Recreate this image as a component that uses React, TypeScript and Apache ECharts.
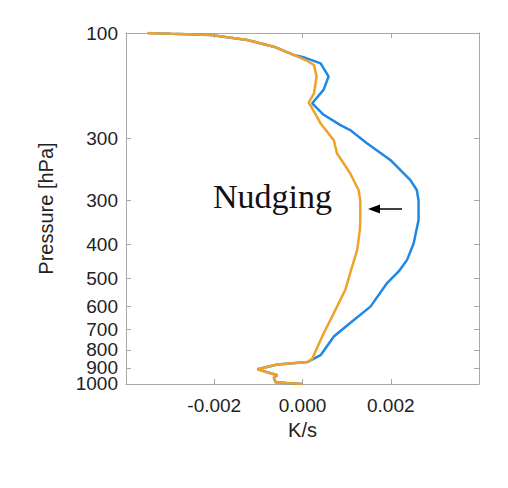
import React, { useEffect, useRef } from "react";
import * as echarts from "echarts";

// Pressure tick positions (hPa) and the labels printed beside them
const pressureTicks = [100, 200, 300, 400, 500, 600, 700, 800, 900, 1000];
const pressureTickLabels = ["100", "300", "300", "400", "500", "600", "700", "800", "900", "1000"];

// Orange profile: [K/s, hPa]
const orangeProfile: [number, number][] = [
  [-0.00351, 100], [-0.00298, 100.5], [-0.00208, 101.3], [-0.00125, 104.7],
  [-0.00065, 109.4], [-0.0002, 115.5], [0.00007, 119.4], [0.00026, 123.4],
  [0.00032, 133], [0.00026, 148.5], [0.00014, 158], [0.00022, 164],
  [0.00041, 181], [0.00071, 202], [0.00078, 220], [0.00108, 251],
  [0.00127, 280], [0.00131, 300], [0.00131, 341], [0.0013, 364],
  [0.00124, 415], [0.00108, 483], [0.00097, 539], [0.00071, 628],
  [0.00048, 717], [0.00022, 848], [0.00011, 866], [-0.00057, 880],
  [-0.00102, 908], [-0.00057, 944], [-0.00065, 959], [-0.00061, 989],
  [-0.00035, 994], [0.0, 1000],
];

// Blue profile: [K/s, hPa]
const blueProfile: [number, number][] = [
  [-0.00351, 100], [-0.00298, 100.5], [-0.00208, 101.3], [-0.00125, 104.7],
  [-0.00065, 109.4], [-0.0002, 115.5], [0.00005, 117.5], [0.00041, 122],
  [0.00059, 133], [0.00048, 145], [0.00022, 158.6], [0.00048, 171],
  [0.00086, 183], [0.00108, 189], [0.00146, 206], [0.00199, 230],
  [0.00244, 262], [0.00259, 280], [0.00263, 300], [0.00263, 341],
  [0.00252, 397], [0.00237, 443], [0.00218, 478], [0.00191, 517],
  [0.00154, 602], [0.00108, 670], [0.00071, 732], [0.00041, 828],
  [0.00014, 862], [0.00011, 866], [-0.00057, 880], [-0.00102, 908],
  [-0.00057, 944], [-0.00065, 959], [-0.00061, 989], [-0.00035, 994], [0.0, 1000],
];

const xMin = -0.004;
const xMax = 0.004;
const xStep = 0.002;

export default function App() {
  const ref = useRef<HTMLDivElement>(null);

  useEffect(() => {
    if (!ref.current) return;
    const chart = echarts.init(ref.current, null, { renderer: "svg" });
    const grey = "#a8a8a8";
    const labelFont = { fontFamily: "Liberation Sans", fontSize: 19, color: "#222" };
    const yLabel = (v: number) => {
      let best = 0;
      let bd = Infinity;
      pressureTicks.forEach((t, i) => {
        const d = Math.abs(t - v);
        if (d < bd) { bd = d; best = i; }
      });
      return pressureTickLabels[best];
    };
    // alternate ticks go on two overlaid left axes so that no label is auto-hidden
    const evenTicks = pressureTicks.filter((_, i) => i % 2 === 0);
    const oddTicks = pressureTicks.filter((_, i) => i % 2 === 1);
    const yBase = {
      type: "log" as const,
      logBase: 10,
      min: 100,
      max: 1000.05,
      inverse: true,
      splitLine: { show: false },
      minorTick: { show: false },
      axisLine: { show: true, onZero: false, lineStyle: { color: grey, width: 1 } },
      axisTick: { show: true, inside: true, length: 5, customValues: pressureTicks, lineStyle: { color: grey } },
    };
    const yLabelStyle = {
      ...labelFont,
      margin: 8,
      showMinLabel: true,
      showMaxLabel: true,
      hideOverlap: false,
      formatter: yLabel,
    };
    const xBase = {
      type: "value" as const,
      min: xMin,
      max: xMax,
      interval: xStep,
      splitLine: { show: false },
      axisLine: { show: true, onZero: false, lineStyle: { color: grey, width: 1 } },
      axisTick: { show: true, inside: true, length: 5, lineStyle: { color: grey } },
    };
    chart.setOption({
      animation: false,
      backgroundColor: "#fff",
      grid: { left: 126, right: 29, top: 33, bottom: 104, show: false },
      xAxis: [
        {
          ...xBase,
          position: "bottom",
          name: "K/s",
          nameLocation: "middle",
          nameGap: 31,
          nameTextStyle: { ...labelFont, fontSize: 20 },
          axisLabel: {
            ...labelFont,
            margin: 12,
            showMinLabel: false,
            showMaxLabel: false,
            formatter: (v: number) => v.toFixed(3),
          },
        },
        { ...xBase, position: "top", axisLabel: { show: false } },
      ],
      yAxis: [
        {
          ...yBase,
          position: "left",
          name: "Pressure [hPa]",
          nameLocation: "middle",
          nameGap: 70,
          nameRotate: 90,
          nameTextStyle: { ...labelFont, fontSize: 20 },
          axisLabel: { ...yLabelStyle, customValues: evenTicks },
        },
        {
          ...yBase,
          position: "left",
          offset: 0,
          axisLine: { show: false },
          axisTick: { show: false },
          axisLabel: { ...yLabelStyle, customValues: oddTicks },
        },
        { ...yBase, position: "right", axisLabel: { show: false } },
      ],
      series: [
        {
          type: "line",
          data: blueProfile,
          showSymbol: false,
          symbol: "none",
          lineStyle: { color: "#1E88E5", width: 2.5 },
          z: 2,
        },
        {
          type: "line",
          data: orangeProfile,
          showSymbol: false,
          symbol: "none",
          lineStyle: { color: "#EFA22A", width: 2.5 },
          z: 3,
        },
      ],
      graphic: [
        {
          type: "text",
          x: 213,
          y: 196,
          style: {
            text: "Nudging",
            font: '34px "Liberation Serif"',
            fill: "#111",
            verticalAlign: "middle",
          },
        },
        {
          type: "line",
          shape: { x1: 402, y1: 209, x2: 374, y2: 209 },
          style: { stroke: "#000", lineWidth: 1.5 },
        },
        {
          type: "polygon",
          shape: { points: [[368, 209], [380, 204.5], [380, 213.5]] },
          style: { fill: "#000" },
        },
      ],
    });
    return () => chart.dispose();
  }, []);

  return (
    <div
      ref={ref}
      style={{ position: "absolute", left: 0, top: 0, width: 508, height: 488 }}
    />
  );
}
